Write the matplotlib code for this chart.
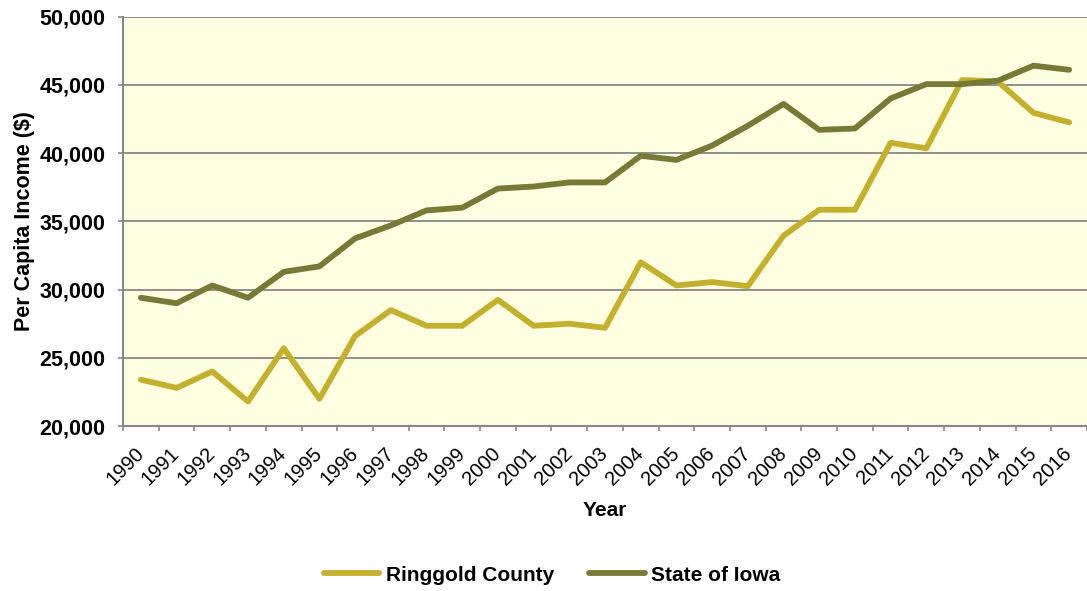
import matplotlib.pyplot as plt
import numpy as np
from matplotlib.ticker import FuncFormatter, FixedLocator

plt.rcParams['font.family'] = ['Liberation Sans', 'DejaVu Sans']

# data
years = list(range(1990, 2017))
ringgold = [23400, 22800, 24000, 21800, 25700, 22000, 26600, 28500, 27350, 27350,
            29250, 27350, 27500, 27200, 32000, 30300, 30550, 30250, 33950, 35850,
            35850, 40750, 40350, 45350, 45250, 42950, 42250]
iowa = [29400, 29000, 30300, 29400, 31300, 31700, 33750, 34700, 35800, 36000,
        37400, 37550, 37850, 37850, 39800, 39500, 40550, 42000, 43600, 41700,
        41800, 44000, 45050, 45050, 45300, 46400, 46100]

GOLD = '#C3B12E'
OLIVE = '#757B36'
GRID = '#878787'

fig = plt.figure(figsize=(10.87, 5.91), dpi=100)
ax = fig.add_axes([0.1132, 0.279, 0.8868, 0.693])
ax.set_facecolor('#FFFFE1')

x = np.arange(len(years))
ax.plot(x, ringgold, color=GOLD, lw=4.2, label='Ringgold County', solid_capstyle='round', zorder=3)
ax.plot(x, iowa, color=OLIVE, lw=4.2, label='State of Iowa', solid_capstyle='round', zorder=3)

ax.set_xlim(-0.5, len(years) - 0.5)
ax.set_ylim(20000, 50000)
ax.set_yticks(np.arange(20000, 50001, 5000))
ax.yaxis.set_major_formatter(FuncFormatter(lambda v, p: f'{int(v):,}'))
ax.grid(axis='y', color=GRID, lw=1.3, zorder=1)
ax.set_axisbelow(True)

# category boundary ticks, labels at centres
ax.xaxis.set_major_locator(FixedLocator(np.arange(-0.5, len(years), 1.0)))
ax.xaxis.set_major_formatter(FuncFormatter(lambda v, p: ''))
ax.xaxis.set_minor_locator(FixedLocator(x))
ax.set_xticklabels([str(y) for y in years], minor=True, rotation=45,
                   ha='right', va='center', rotation_mode='anchor', fontsize=14.5)
ax.tick_params(axis='x', which='minor', length=0, pad=17.5)
ax.tick_params(axis='x', which='major', length=3.6, width=1.2, color=GRID)
ax.tick_params(axis='y', length=3.6, width=1.2, color=GRID, labelsize=15.5, pad=9)
for lab in ax.get_yticklabels():
    lab.set_fontweight('bold')

for side in ['top', 'right']:
    ax.spines[side].set_visible(False)
for side in ['left', 'bottom']:
    ax.spines[side].set_color(GRID)
    ax.spines[side].set_linewidth(1.5)

ax.set_ylabel('Per Capita Income ($)', fontsize=15.5, fontweight='bold', labelpad=3)
ax.set_xlabel('Year', fontsize=15, fontweight='bold', va='center')
ax.xaxis.set_label_coords(0.5, -0.205)

fig.legend(loc='center', bbox_to_anchor=(0.508, 0.027), ncol=2, frameon=False,
           prop={'size': 15, 'weight': 'bold'}, handlelength=2.65, columnspacing=1.7,
           handletextpad=0.3)

fig.savefig('out.png', dpi=100)
